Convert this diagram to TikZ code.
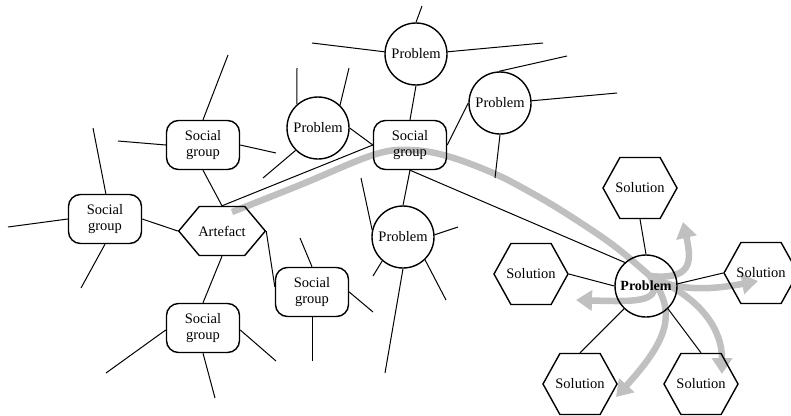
\documentclass[tikz,border=0pt]{standalone}
\usepackage{fontspec}
\setmainfont{Liberation Serif}
\usetikzlibrary{arrows.meta, shapes.symbols, backgrounds}
\tikzset{>={Triangle[width=20pt,length=16pt]}}
\tikzset{
  base/.style = {draw, line width=1.4pt, inner sep=1pt, align=center,
    font=\fontsize{14.5}{16.5}\selectfont},
  social/.style = {base, rounded corners=12pt, minimum width=73pt, minimum height=49pt},
  problem/.style = {base, circle, minimum size=62pt},
  artefact/.style = {base, signal, signal to=east and west, signal pointer angle=100,
    inner xsep=-1pt, minimum width=85pt, minimum height=49pt},
  solution/.style = {base, signal, signal to=east and west, signal pointer angle=122,
    inner xsep=-6pt, minimum width=74pt, minimum height=61pt},
  link/.style = {line width=1pt},
  flow/.style = {draw={rgb,255:red,192;green,192;blue,192}, line width=6.5pt},
}

\begin{document}
\begin{tikzpicture}[x=1pt, y=-1pt]
  \useasboundingbox (0,0) rectangle (791,415);
  % social groups round the artefact
  \node (art) [artefact] at (222,231) {Artefact};
  \node (sgL) [social] at (105,219) {Social\\group};
  \node (sgT) [social] at (203,145) {Social\\group};
  \node (sgB) [social] at (203,328) {Social\\group};
  \node (sgM) [social] at (312,292) {Social\\group};
  \node (sgC) [social] at (410,145) {Social\\group};
  % problems
  \node (prL) [problem] at (318,128) {Problem};
  \node (prT) [problem] at (416,54) {Problem};
  \node (prR) [problem] at (500,103) {Problem};
  \node (prM) [problem] at (403,237) {Problem};
  \node (prB) [problem, font=\fontsize{14}{16}\selectfont\bfseries] at (646,286) {Problem};
  % solutions
  \node (soT) [solution] at (640,188) {Solution};
  \node (soL) [solution] at (531,274) {Solution};
  \node (soR) [solution] at (761,273) {Solution};
  \node (soBL) [solution] at (580,384) {Solution};
  \node (soBR) [solution] at (701,384) {Solution};

  \path[link]
    (sgL.east) edge (art.west)
    (sgT.south) edge (art.north)
    (sgB.north) edge (art.south)
    (art.north) edge (sgC.west)
    (art.east) edge (sgM.172)
    (prL.east) edge (sgC.west)
    (prT.south) edge (sgC.north)
    (prR.west) edge (sgC.east)
    (sgC.south) edge (prM.north)
    (sgC.south) edge (prB.132)
    (soT.south) edge (prB.north)
    (soL.east) edge (prB.west)
    (prB.4) edge (soR.west)
    (prB.226) edge (soBL.north)
    (prB.314) edge (soBR.north);

  % loose ends
  \foreach \src/\ang/\ex/\ey [count=\i] in {
      sgL/88/93/128, sgL/180/8/227, sgL/270/81/288,
      sgT/90/228/55, sgT/180/118/141, sgT/0/276/153,
      sgB/183/106/373, sgB/357/276/361, sgB/270/215/398,
      sgM/90/300/238, sgM/0/373/312, sgM/270/312/361,
      prL/132/297/68, prL/46/349/68, prL/225/263/178,
      prT/90/422/6, prT/176/312/43, prT/4/543/43,
      prR/92/567/56, prR/4/617/93, prR/270/495/178,
      prM/167/361/178, prM/4/458/227, prM/314/446/300,
      prM/270/385/373, prM/229/373/276}
  {
    \coordinate (end\i) at (\ex,\ey);
    \draw[link] (\src.\ang) -- (end\i);
  }

  % grey flow
  \coordinate (fstart) at (232,212);
  \coordinate (fsplit) at (650,276);
  \coordinate (tipU) at (683,222);
  \coordinate (tipR) at (758,281);
  \coordinate (tipL) at (576,300);
  \coordinate (tipBL) at (616,397);
  \coordinate (tipBR) at (722,374);
  \begin{scope}[on background layer]
    \draw[flow] plot[smooth, tension=0.6] coordinates {(fstart) (300,185) (373,155)
      (410,150) (447,156) (493,173) (530,192) (567,214) (613,245) (fsplit)};
    \draw[flow, ->] (fsplit) .. controls (692,280) and (692,262) .. (tipU);
    \draw[flow, ->] (fsplit) .. controls (680,294) and (720,288) .. (tipR);
    \draw[flow, ->] (fsplit) .. controls (664,302) and (640,302) .. (tipL);
    \draw[flow, ->] (fsplit) .. controls (678,312) and (668,340) .. (tipBL);
    \draw[flow, ->] (fsplit) .. controls (702,298) and (722,330) .. (tipBR);
  \end{scope}
\end{tikzpicture}
\end{document}
